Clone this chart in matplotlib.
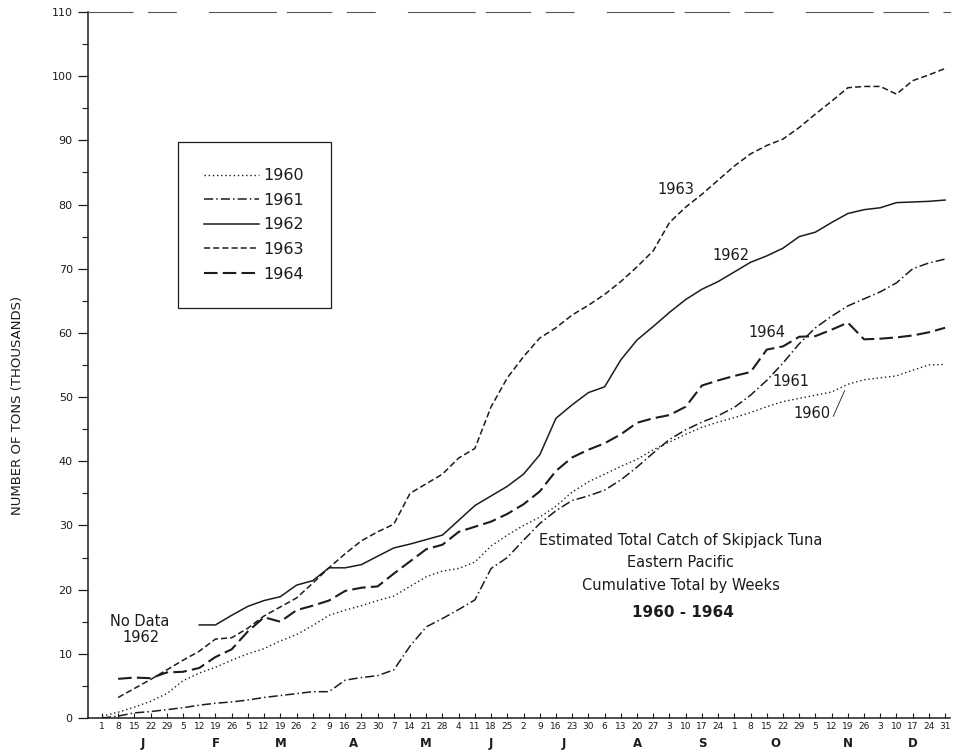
import numpy as np
import matplotlib.pyplot as plt
from matplotlib.transforms import blended_transform_factory

nan = np.nan

# week labels (day of month for each weekly total, Jan 1 .. Dec 31)
week_days = [1, 8, 15, 22, 29, 5, 12, 19, 26, 5, 12, 19, 26, 2, 9, 16, 23, 30,
             7, 14, 21, 28, 4, 11, 18, 25, 2, 9, 16, 23, 30, 6, 13, 20, 27,
             3, 10, 17, 24, 1, 8, 15, 22, 29, 5, 12, 19, 26, 3, 10, 17, 24, 31]
months = ["J", "F", "M", "A", "M", "J", "J", "A", "S", "O", "N", "D"]

# cumulative catch, thousands of tons
catch_1960 = [0.3, 0.9, 1.7, 2.6, 3.8, 5.8, 7.0, 7.9, 9.0, 10.0,
              10.8, 12.0, 13.0, 14.4, 16.0, 16.8, 17.5, 18.3, 19.0, 20.5,
              22.0, 22.9, 23.3, 24.3, 26.8, 28.5, 30.0, 31.3, 33.0, 35.2,
              36.8, 38.0, 39.2, 40.3, 41.8, 43.0, 44.2, 45.3, 46.1, 46.8,
              47.6, 48.5, 49.3, 49.8, 50.3, 50.8, 52.0, 52.7, 53.0, 53.3,
              54.2, 55.0, 55.1]
catch_1961 = [0.0, 0.3, 0.8, 1.0, 1.3, 1.6, 2.0, 2.3, 2.5, 2.8,
              3.2, 3.5, 3.8, 4.1, 4.1, 5.9, 6.3, 6.6, 7.5, 11.2,
              14.2, 15.5, 16.9, 18.4, 23.3, 25.0, 27.7, 30.3, 32.3, 33.9,
              34.6, 35.5, 37.1, 39.1, 41.3, 43.4, 44.9, 46.1, 47.1, 48.4,
              50.3, 52.6, 55.3, 58.3, 60.8, 62.6, 64.2, 65.3, 66.4, 67.8,
              70.0, 70.9, 71.5]
catch_1962 = [nan, nan, nan, nan, nan, nan, 14.5, 14.5, 16.0, 17.4,
              18.3, 18.9, 20.7, 21.4, 23.4, 23.4, 23.9, 25.2, 26.5, 27.1,
              27.8, 28.5, 30.8, 33.1, 34.6, 36.1, 38.0, 41.0, 46.7, 48.8,
              50.7, 51.6, 55.8, 58.9, 61.0, 63.2, 65.2, 66.8, 68.0, 69.5,
              71.0, 72.0, 73.2, 75.0, 75.7, 77.2, 78.6, 79.2, 79.5, 80.3,
              80.4, 80.5, 80.7]
catch_1963 = [nan, 3.2, 4.6, 6.0, 7.5, 9.0, 10.4, 12.3, 12.5, 14.0,
              15.9, 17.3, 18.7, 21.0, 23.4, 25.6, 27.6, 29.0, 30.2, 35.0,
              36.5, 38.0, 40.5, 42.0, 48.5, 53.0, 56.3, 59.2, 60.8, 62.8,
              64.3, 66.0, 68.0, 70.3, 72.8, 77.2, 79.6, 81.6, 83.8, 86.0,
              87.9, 89.2, 90.2, 92.0, 94.1, 96.1, 98.2, 98.4, 98.4, 97.2,
              99.3, 100.2, 101.2]
catch_1964 = [nan, 6.1, 6.3, 6.2, 7.1, 7.2, 7.8, 9.5, 10.7, 13.5,
              15.7, 15.0, 16.8, 17.5, 18.3, 19.8, 20.3, 20.5, 22.5, 24.4,
              26.3, 27.0, 29.0, 29.8, 30.6, 31.8, 33.3, 35.3, 38.5, 40.6,
              41.8, 42.8, 44.2, 46.0, 46.7, 47.2, 48.5, 51.8, 52.6, 53.3,
              53.9, 57.4, 57.9, 59.4, 59.5, 60.5, 61.6, 59.0, 59.1, 59.3,
              59.6, 60.1, 60.8]

ink = "#1c1c1c"
plt.rcParams["font.family"] = ["DejaVu Sans"]

weeks = np.arange(len(week_days))
month_start = [0] + [i for i in range(1, len(week_days)) if week_days[i] < week_days[i - 1]]
month_edges = month_start + [len(week_days) - 1]
month_mid = [(month_edges[i] + month_edges[i + 1]) / 2 for i in range(len(months))]

fig = plt.figure(figsize=(9.56, 7.54), dpi=100)
ax = fig.add_axes([88 / 956, 36 / 754, 862 / 956, 706 / 754])

series = [
    ("1960", catch_1960, dict(ls=(0, (1, 2)), lw=1.0)),
    ("1961", catch_1961, dict(ls=(0, (6, 2, 1, 2)), lw=1.1)),
    ("1962", catch_1962, dict(ls="-", lw=1.1)),
    ("1963", catch_1963, dict(ls=(0, (4, 2)), lw=1.1)),
    ("1964", catch_1964, dict(ls=(0, (6.5, 2.5)), lw=1.5)),
]
for name, vals, st in series:
    ax.plot(weeks, vals, color=ink, label=name, **st)

ax.set_xlim(-0.86, 52.3)
ax.set_ylim(0, 110)

ax.set_xticks(weeks)
ax.set_xticklabels([str(d) for d in week_days], fontsize=6.5)
ax.set_xticks(month_edges, minor=True)
ax.tick_params(axis="x", which="major", direction="in", length=3.5, width=0.8, pad=3, colors=ink)
ax.tick_params(axis="x", which="minor", direction="in", length=8, width=0.9, colors=ink)

ax.set_yticks(np.arange(0, 111, 10))
ax.set_yticks(np.arange(5, 110, 10), minor=True)
ax.tick_params(axis="y", which="major", direction="out", length=7, width=0.9, pad=4, labelsize=8, colors=ink)
ax.tick_params(axis="y", which="minor", direction="out", length=4, width=0.8, colors=ink)

ax.spines["right"].set_visible(False)
ax.spines["left"].set_color(ink)
ax.spines["bottom"].set_color(ink)
ax.spines["left"].set_linewidth(1.1)
ax.spines["bottom"].set_linewidth(1.1)
ax.spines["top"].set_color("#555555")
ax.spines["top"].set_linewidth(0.8)
ax.spines["top"].set_linestyle((0, (40, 14, 25, 30, 60, 10)))

trans = blended_transform_factory(ax.transData, ax.transAxes)
for m, xm in zip(months, month_mid):
    ax.text(xm, -0.036, m, transform=trans, ha="center", va="center",
            fontsize=8.5, fontweight="bold", color=ink)

fig.text(18 / 956, 1 - 405 / 754, "NUMBER OF TONS (THOUSANDS)", rotation=90,
         ha="center", va="center", fontsize=9.5, color=ink)

# curve labels
lab = dict(fontsize=10.5, color=ink, ha="center", va="center")
ax.text(35.4, 82.3, "1963", **lab)
ax.text(38.8, 72.0, "1962", **lab)
ax.text(41.0, 60.1, "1964", **lab)
ax.text(42.5, 52.5, "1961", **lab)
ax.text(43.8, 47.4, "1960", **lab)
ax.plot([45.1, 45.8], [47.0, 51.0], color=ink, lw=0.6)
ax.text(2.3, 15.1, "No Data", **lab)
ax.text(2.4, 12.6, "1962", **lab)

title = dict(fontsize=10.5, color=ink, ha="center", va="center")
ax.text(35.7, 27.6, "Estimated Total Catch of Skipjack Tuna", **title)
ax.text(35.7, 24.2, "Eastern Pacific", **title)
ax.text(35.7, 20.6, "Cumulative Total by Weeks", **title)
ax.text(35.8, 16.5, "1960 - 1964", fontsize=11, fontweight="bold", color=ink,
        ha="center", va="center")

leg = ax.legend(loc="upper left", bbox_to_anchor=(0.1044, 0.816), borderaxespad=0,
                fontsize=11.5, handlelength=3.4, handletextpad=0.3, labelspacing=0.6,
                borderpad=1.65, fancybox=False, framealpha=1)
leg.get_frame().set_edgecolor(ink)
leg.get_frame().set_linewidth(0.9)
for t in leg.get_texts():
    t.set_color(ink)

plt.savefig("out.png", dpi=100)
plt.close()
